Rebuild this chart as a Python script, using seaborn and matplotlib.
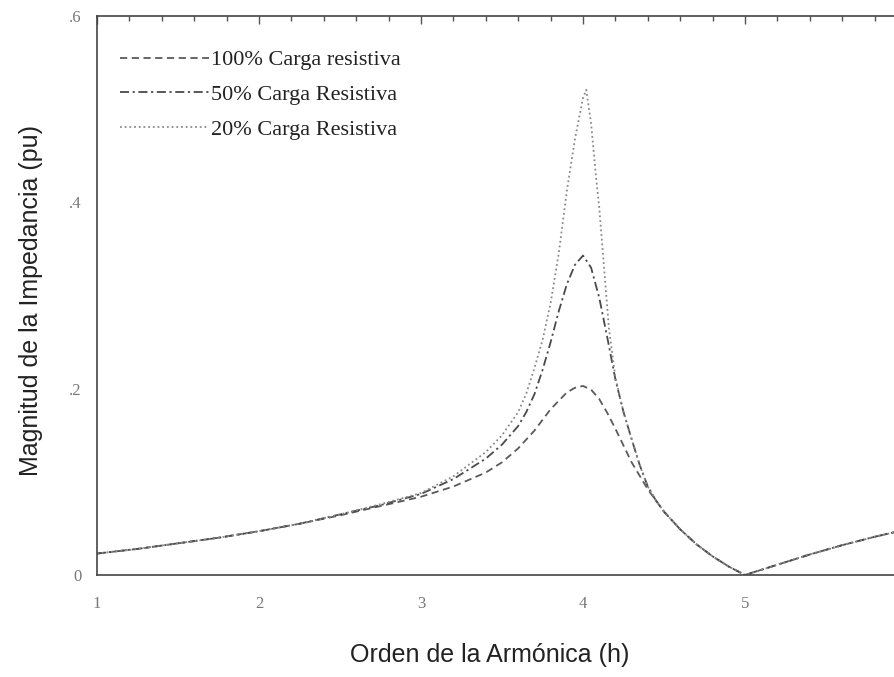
import numpy as np
import pandas as pd
import matplotlib
matplotlib.use("Agg")
import matplotlib.pyplot as plt
from matplotlib.ticker import MultipleLocator
import seaborn as sns

# ---- data ----
series_names = ["100% Carga resistiva", "50% Carga Resistiva", "20% Carga Resistiva"]

h_100 = [1.0, 1.25, 1.5, 1.75, 2.0, 2.25, 2.5, 2.75, 3.0, 3.2, 3.4, 3.5, 3.6, 3.7, 3.8,
         3.9, 3.95, 4.0, 4.05, 4.1, 4.15, 4.2, 4.3, 4.4, 4.5, 4.6, 4.7, 4.8, 4.9, 5.0,
         5.2, 5.4, 5.6, 5.8, 6.0]
z_100 = [0.023, 0.028, 0.034, 0.040, 0.047, 0.055, 0.064, 0.074, 0.084, 0.095, 0.110,
         0.121, 0.136, 0.155, 0.178, 0.196, 0.201, 0.203, 0.199, 0.189, 0.174, 0.157,
         0.121, 0.092, 0.068, 0.049, 0.033, 0.020, 0.009, 0.0, 0.011, 0.022, 0.032,
         0.041, 0.049]

h_50 = [1.0, 1.25, 1.5, 1.75, 2.0, 2.25, 2.5, 2.75, 3.0, 3.2, 3.4, 3.5, 3.6, 3.65, 3.7,
        3.75, 3.8, 3.85, 3.9, 3.95, 4.0, 4.05, 4.1, 4.15, 4.2, 4.25, 4.3, 4.35, 4.4,
        4.45, 4.5, 4.6, 4.7, 4.8, 4.9, 5.0, 5.2, 5.4, 5.6, 5.8, 6.0]
z_50 = [0.023, 0.028, 0.034, 0.040, 0.047, 0.055, 0.065, 0.075, 0.087, 0.103, 0.125,
        0.140, 0.160, 0.175, 0.194, 0.220, 0.250, 0.283, 0.312, 0.333, 0.343, 0.330,
        0.298, 0.255, 0.210, 0.175, 0.146, 0.118, 0.095, 0.080, 0.068, 0.049, 0.033,
        0.020, 0.009, 0.0, 0.011, 0.022, 0.032, 0.041, 0.049]

h_20 = [1.0, 1.25, 1.5, 1.75, 2.0, 2.25, 2.5, 2.75, 3.0, 3.2, 3.4, 3.5, 3.6, 3.65, 3.7,
        3.75, 3.8, 3.85, 3.9, 3.95, 4.0, 4.02, 4.05, 4.08, 4.1, 4.13, 4.16, 4.2, 4.25,
        4.3, 4.35, 4.4, 4.45, 4.5, 4.6, 4.7, 4.8, 4.9, 5.0, 5.2, 5.4, 5.6, 5.8, 6.0]
z_20 = [0.023, 0.028, 0.034, 0.040, 0.047, 0.055, 0.065, 0.076, 0.088, 0.106, 0.132,
        0.150, 0.175, 0.195, 0.222, 0.252, 0.292, 0.345, 0.412, 0.468, 0.512, 0.521,
        0.485, 0.428, 0.395, 0.330, 0.265, 0.212, 0.175, 0.146, 0.118, 0.095, 0.080,
        0.068, 0.049, 0.033, 0.020, 0.009, 0.0, 0.011, 0.022, 0.032, 0.041, 0.049]

x_ticks = [1, 2, 3, 4, 5, 6]
x_tick_labels = ["1", "2", "3", "4", "5", "6"]
y_ticks = [0, 0.2, 0.4, 0.6]
y_tick_labels = ["0", ".2", ".4", ".6"]

# ---- build long table ----
frames = []
for name, hh, zz in zip(series_names, [h_100, h_50, h_20], [z_100, z_50, z_20]):
    frames.append(pd.DataFrame({"h": hh, "z": zz, "serie": name}))
df = pd.concat(frames, ignore_index=True)

sns.set_theme(style="white")
plt.rcParams["font.family"] = ["Liberation Sans", "DejaVu Sans"]

fig = plt.figure(figsize=(8.95, 6.77), dpi=100)
ax = fig.add_axes([0.1084, 0.1507, 0.905, 0.8253])

palette = {series_names[0]: "#5a5a5a", series_names[1]: "#4a4a4a", series_names[2]: "#8a8a8a"}
dashes = {series_names[0]: (4, 2.5), series_names[1]: (5, 2, 1.2, 2), series_names[2]: (1, 1.6)}

sns.lineplot(data=df, x="h", y="z", hue="serie", style="serie", palette=palette,
             dashes=dashes, sort=False, estimator=None, linewidth=1.3, ax=ax, legend=True)

ax.set_xlim(1, 6)
ax.set_ylim(0, 0.6)

ax.set_xticks(x_ticks)
ax.set_xticklabels(x_tick_labels)
ax.set_yticks(y_ticks)
ax.set_yticklabels(y_tick_labels)
ax.xaxis.set_minor_locator(MultipleLocator(0.2))
ax.yaxis.set_minor_locator(MultipleLocator(0.05))

ax.tick_params(axis="both", which="both", direction="in", top=True, right=True,
               colors="#555555", width=1.0)
ax.tick_params(axis="both", which="major", length=6)
ax.tick_params(axis="both", which="minor", length=3.5)
ax.tick_params(axis="x", which="major", pad=15)
ax.tick_params(axis="y", which="major", pad=11)
for lab in ax.get_xticklabels() + ax.get_yticklabels():
    lab.set_fontfamily(["Liberation Serif", "DejaVu Serif"])
    lab.set_fontsize(12)
    lab.set_color("#777777")

for s in ax.spines.values():
    s.set_color("#444444")
    s.set_linewidth(1.2)

ax.set_xlabel("Orden de la Armónica (h)", fontsize=18, color="#222222")
ax.set_ylabel("Magnitud de la Impedancia (pu)", fontsize=18, color="#222222")
ax.xaxis.set_label_coords(0.485, -0.122)
ax.yaxis.set_label_coords(-0.067, 0.492)

old = ax.get_legend()
handles = list(old.legend_handles)
labels = [t.get_text() for t in old.get_texts()]
old.remove()
leg = ax.legend(handles, labels, loc="upper left", bbox_to_anchor=(0.028, 0.94),
                frameon=False, handlelength=4.0, handletextpad=0.1, labelspacing=0.64,
                borderpad=0, borderaxespad=0,
                prop={"family": ["Liberation Serif", "DejaVu Serif"], "size": 16})
for t in leg.get_texts():
    t.set_color("#222222")

fig.savefig("out.png", dpi=100, facecolor="white")
